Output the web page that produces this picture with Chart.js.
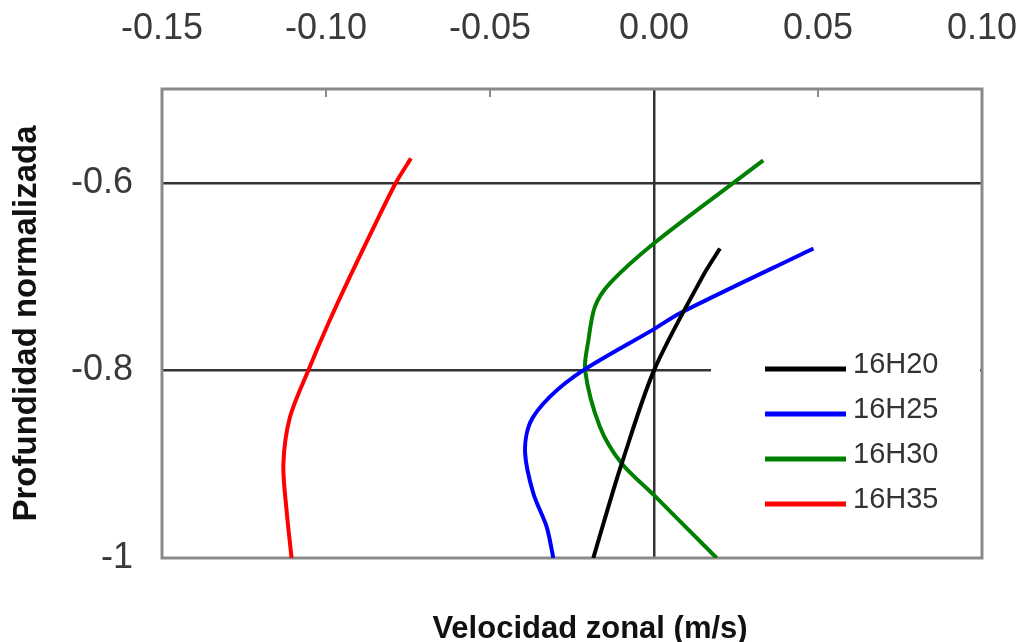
<!DOCTYPE html>
<html>
<head>
<meta charset="utf-8">
<script src="https://cdn.jsdelivr.net/npm/chart.js@4/dist/chart.umd.min.js"></script>
<style>
  html, body { margin: 0; padding: 0; background: #fff; }
  #wrap { width: 1023px; height: 642px; position: relative; }
</style>
</head>
<body>
<div id="wrap"><canvas id="chart"></canvas></div>
<script>
// series labels and colours
const seriesNames = ['16H20', '16H25', '16H30', '16H35'];
const seriesColors = ['#000000', '#0000ff', '#008000', '#ff0000'];

// velocity (m/s) and normalized depth
const vel16H20 = [-0.0185, -0.0143, -0.0099, 0.0, 0.0148, 0.0201];
const dep16H20 = [-1.0, -0.95, -0.9, -0.8, -0.7, -0.67];

const vel16H25 = [-0.0307, -0.0327, -0.0368, -0.0393, -0.0378, -0.0317, -0.0216, 0.0, 0.0079, 0.0486];
const dep16H25 = [-1.0, -0.967, -0.931, -0.888, -0.856, -0.828, -0.8, -0.756, -0.739, -0.67];

const vel16H30 = [0.0191, 0.0, -0.0099, -0.0165, -0.021, -0.02, -0.018, -0.0134, 0.0, 0.0242, 0.0333];
const dep16H30 = [-1.0, -0.933, -0.899, -0.86, -0.8, -0.768, -0.732, -0.707, -0.6645, -0.6, -0.576];

const vel16H35 = [-0.1105, -0.112, -0.113, -0.111, -0.1054, -0.0993, -0.0927, -0.0858, -0.0787, -0.0741];
const dep16H35 = [-1.0, -0.95, -0.9, -0.85, -0.8, -0.75, -0.7, -0.65, -0.6, -0.574];

// axis ticks
const xTicks = [-0.15, -0.10, -0.05, 0.00, 0.05, 0.10];
const yTicks = [-1, -0.8, -0.6];

const velocities = [vel16H20, vel16H25, vel16H30, vel16H35];
const depths = [dep16H20, dep16H25, dep16H30, dep16H35];

function toPoints(xs, ys) {
    return xs.map((x, i) => ({ x: x, y: ys[i] }));
}

// frame, inner tick marks, legend and bottom title
const extras = {
    id: 'extras',
    beforeDatasetsDraw(chart) {
        const ctx = chart.ctx;
        const a = chart.chartArea;
        const xs = chart.scales.x;
        ctx.save();
        ctx.strokeStyle = '#8a8a8a';
        ctx.lineWidth = 3;
        ctx.strokeRect(a.left, a.top, a.right - a.left, a.bottom - a.top);
        ctx.lineWidth = 2;
        xTicks.forEach(v => {
            if (v === 0) return;
            const px = xs.getPixelForValue(v);
            ctx.beginPath();
            ctx.moveTo(px, a.top);
            ctx.lineTo(px, a.top + 8);
            ctx.stroke();
        });
        ctx.restore();
    },
    afterDraw(chart) {
        const ctx = chart.ctx;
        const a = chart.chartArea;
        ctx.save();
        // legend box
        ctx.fillStyle = '#ffffff';
        ctx.fillRect(711, 345, a.right - 2 - 711, 185);
        chart.data.datasets.forEach((ds, i) => {
            const y = 369 + i * 45;
            ctx.strokeStyle = ds.borderColor;
            ctx.lineWidth = 5;
            ctx.beginPath();
            ctx.moveTo(765, y);
            ctx.lineTo(846, y);
            ctx.stroke();
            ctx.fillStyle = '#333333';
            ctx.font = '29px "Liberation Sans", Arial, sans-serif';
            ctx.textAlign = 'left';
            ctx.textBaseline = 'alphabetic';
            ctx.fillText(ds.label, 853, y + 4);
        });
        // x axis title sits under the plot
        ctx.fillStyle = '#111111';
        ctx.font = 'bold 31px "Liberation Sans", Arial, sans-serif';
        ctx.textAlign = 'center';
        ctx.textBaseline = 'alphabetic';
        ctx.fillText('Velocidad zonal (m/s)', 590, 638);
        ctx.restore();
    }
};

const ctx = document.getElementById('chart').getContext('2d');
const chart = new Chart(ctx, {
    type: 'scatter',
    data: {
        datasets: seriesNames.map((name, i) => ({
            label: name,
            data: toPoints(velocities[i], depths[i]),
            borderColor: seriesColors[i],
            backgroundColor: seriesColors[i],
            showLine: true,
            borderWidth: 4,
            pointRadius: 0,
            tension: 0.3
        }))
    },
    options: {
        responsive: true,
        maintainAspectRatio: false,
        animation: false,
        layout: { padding: { left: 0, top: 0, right: 41, bottom: 84 } },
        plugins: {
            legend: { display: false },
            tooltip: { enabled: false }
        },
        scales: {
            x: {
                type: 'linear',
                position: 'top',
                min: -0.15,
                max: 0.10,
                afterBuildTicks: scale => { scale.ticks = xTicks.map(v => ({ value: v })); },
                afterFit: scale => {
                    scale.height = 89;
                    scale.paddingLeft = 0;
                    scale.paddingRight = 0;
                },
                border: { display: false },
                grid: {
                    drawTicks: false,
                    lineWidth: 2.5,
                    color: c => (c.tick && Math.abs(c.tick.value) < 1e-9) ? '#333333' : 'rgba(0,0,0,0)'
                },
                ticks: {
                    padding: 38,
                    color: '#3a3a3a',
                    font: { family: '"Liberation Sans", Arial, sans-serif', size: 36 },
                    callback: v => (Math.abs(v) < 1e-9 ? 0 : v).toFixed(2)
                }
            },
            y: {
                type: 'linear',
                min: -1,
                max: -0.5,
                afterBuildTicks: scale => { scale.ticks = yTicks.map(v => ({ value: v })); },
                afterFit: scale => {
                    scale.width = 162;
                    scale.paddingTop = 0;
                    scale.paddingBottom = 0;
                },
                border: { display: false },
                grid: {
                    drawTicks: false,
                    lineWidth: 2.5,
                    color: c => (c.tick && c.tick.value === -1) ? 'rgba(0,0,0,0)' : '#333333'
                },
                ticks: {
                    padding: 29,
                    color: '#3a3a3a',
                    font: { family: '"Liberation Sans", Arial, sans-serif', size: 36 },
                    callback: v => String(Math.round(v * 10) / 10)
                },
                title: {
                    display: true,
                    text: 'Profundidad normalizada',
                    color: '#111111',
                    padding: { top: 7, bottom: 0 },
                    font: { family: '"Liberation Sans", Arial, sans-serif', size: 33, weight: 'bold' }
                }
            }
        }
    },
    plugins: [extras]
});
</script>
</body>
</html>
